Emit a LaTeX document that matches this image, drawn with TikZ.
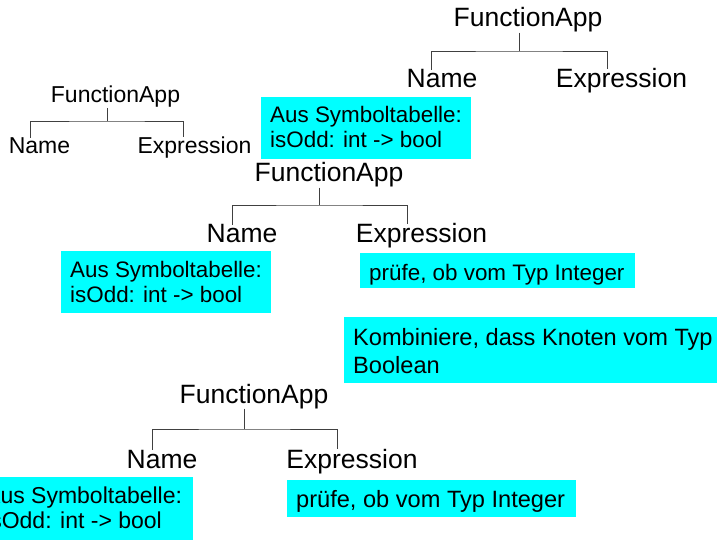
\documentclass[tikz,border=0pt]{standalone}
\usepackage{fontspec}
\setmainfont{Liberation Sans}
\definecolor{boxcyan}{RGB}{0,255,255}
\begin{document}
\begin{tikzpicture}[x=1pt,y=-1pt,
  lbl/.style={inner sep=0pt, anchor=base},
  big/.style={font=\fontsize{26.5}{30}\selectfont},
  small/.style={font=\fontsize{23}{26}\selectfont},
  box/.style={fill=boxcyan, draw=none, inner sep=0pt, anchor=north west},
  boxtext/.style={inner sep=0pt, anchor=base west, align=left},
  btA/.style={font=\fontsize{22.4}{25}\selectfont},
  btB/.style={font=\fontsize{23.6}{28}\selectfont},
  edge/.style={draw=black!75, line width=0.9pt}]
\useasboundingbox (0,0) rectangle (718,540);
\clip (0,0) rectangle (718,540);

% tree A (top right); two-line notes are placed by their last baseline
\node[lbl,big] (fA) at (528,27) {FunctionApp};
\node[lbl,big] (nA) at (442,88) {Name};
\node[lbl,big] (eA) at (621.5,88) {Expression};
\coordinate (jA) at (519,51);
\draw[edge] (fA.south -| jA) -- (jA);
\draw[edge] ([xshift=-11pt]nA.north) |- (jA) -| ([xshift=-14.5pt]eA.north);
\node[box, minimum width=210pt, minimum height=62pt] (bA) at (261,97) {};
\node[boxtext,btA] (tA) at (270,148) {Aus Symboltabelle:\\isOdd: int -> bool};

% tree B (small, left)
\node[lbl,small] (fB) at (115.5,103) {FunctionApp};
\node[lbl,small] (nB) at (39.5,154) {Name};
\node[lbl,small] (eB) at (194.5,154) {Expression};
\coordinate (jB) at (107,121);
\draw[edge] (fB.south -| jB) -- (jB);
\draw[edge] ([xshift=-9.5pt]nB.north) |- (jB) -| ([xshift=-11.5pt]eB.north);

% tree C (middle)
\node[lbl,big] (fC) at (329,182) {FunctionApp};
\node[lbl,big] (nC) at (242,243) {Name};
\node[lbl,big] (eC) at (421.5,243) {Expression};
\coordinate (jC) at (319,205);
\draw[edge] (fC.south -| jC) -- (jC);
\draw[edge] ([xshift=-10pt]nC.north) |- (jC) -| ([xshift=-14.5pt]eC.north);
\node[box, minimum width=210pt, minimum height=62pt] (bC1) at (61,251) {};
\node[boxtext,btA] (tC1) at (70,303) {Aus Symboltabelle:\\isOdd: int -> bool};
\node[box, minimum width=275pt, minimum height=35pt] (bC2) at (360,253) {};
\node[boxtext,btA] (tC2) at (369,280) {prüfe, ob vom Typ Integer};

% combination note
\node[box, minimum width=373pt, minimum height=66pt] (bK) at (344,317) {};
\node[boxtext,btB] (tK) at (353,373) {Kombiniere, dass Knoten vom Typ\\Boolean};

% tree D (bottom)
\node[lbl,big] (fD) at (254,403) {FunctionApp};
\node[lbl,big] (nD) at (162,468) {Name};
\node[lbl,big] (eD) at (352,468) {Expression};
\coordinate (jD) at (244,429);
\draw[edge] (fD.south -| jD) -- (jD);
\draw[edge] ([xshift=-10pt]nD.north) |- (jD) -| ([xshift=-15pt]eD.north);
\node[box, minimum width=217pt, minimum height=66pt] (bD1) at (-24,477) {};
\node[boxtext,font=\fontsize{23}{25}\selectfont] (tD1) at (-15,528) {Aus Symboltabelle:\\isOdd: int -> bool};
\node[box, minimum width=289pt, minimum height=37pt] (bD2) at (287,480) {};
\node[boxtext,btB] (tD2) at (296,507) {prüfe, ob vom Typ Integer};
\end{tikzpicture}
\end{document}
